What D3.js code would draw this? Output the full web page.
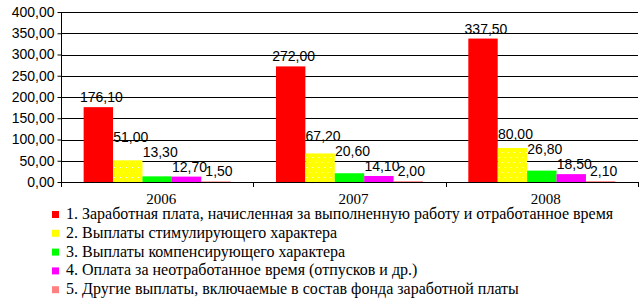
<!DOCTYPE html>
<html>
<head>
<meta charset="utf-8">
<script src="https://cdn.jsdelivr.net/npm/d3@7"></script>
<style>
  body { margin: 0; background: #fff; }
  svg text { font-family: "Liberation Serif", "Times New Roman", serif; font-size: 16px; fill: #000; }
  svg text.num { font-family: "Liberation Sans", Arial, sans-serif; font-size: 14px; }
  svg text.yr { font-size: 15px; }
</style>
</head>
<body>
<svg id="chart" width="642" height="300"></svg>
<script>
// data
var years = ["2006", "2007", "2008"];
var seriesNames = [
    "1. Заработная плата, начисленная за выполненную работу и отработанное время",
    "2. Выплаты стимулирующего характера",
    "3. Выплаты компенсирующего характера",
    "4. Оплата за неотработанное время (отпусков и др.)",
    "5. Другие выплаты, включаемые в состав фонда заработной платы"
];
var s1 = [176.10, 272.00, 337.50];
var s2 = [51.00, 67.20, 80.00];
var s3 = [13.30, 20.60, 26.80];
var s4 = [12.70, 14.10, 18.50];
var s5 = [1.50, 2.00, 2.10];
var yTicks = [0, 50, 100, 150, 200, 250, 300, 350, 400];

var seriesValues = [s1, s2, s3, s4, s5];
var colors = ["#ff0000", "url(#dots)", "#00ff00", "#ff00ff", "#ff8080"];
var legendColors = ["#ff0000", "#ffff00", "#00ff00", "#ff00ff", "#ff8080"];

var svg = d3.select('#chart');
var plotLeft = 61, plotTop = 12, plotRight = 638, plotBottom = 182;

// yellow with white dots
var pat = svg.append('defs').append('pattern')
    .attr('id', 'dots').attr('patternUnits', 'userSpaceOnUse')
    .attr('width', 6).attr('height', 10);
pat.append('rect').attr('width', 6).attr('height', 10).attr('fill', '#ffff00');
pat.append('rect').attr('x', 2).attr('y', 2).attr('width', 1).attr('height', 1).attr('fill', '#fff');
pat.append('rect').attr('x', 5).attr('y', 7).attr('width', 1).attr('height', 1).attr('fill', '#fff');

var y = d3.scaleLinear().domain([0, 400]).range([plotBottom, plotTop]);
var x0 = d3.scaleBand().domain(years).range([plotLeft, plotRight]);
var x1 = d3.scaleBand().domain(d3.range(5)).range([0, x0.bandwidth()]).paddingOuter(0.77);

var fmt = function (v) { return d3.format('.2f')(v).replace('.', ','); };

// gridlines
svg.append('g').selectAll('line').data(yTicks.slice(1)).enter().append('line')
    .attr('x1', plotLeft).attr('x2', plotRight)
    .attr('y1', function (d) { return Math.round(y(d)) + 0.5; })
    .attr('y2', function (d) { return Math.round(y(d)) + 0.5; })
    .attr('stroke', '#000').attr('stroke-width', 1);

// bars
var groups = svg.append('g').selectAll('g').data(years).enter().append('g')
    .attr('transform', function (d) { return 'translate(' + x0(d) + ',0)'; });

groups.selectAll('rect').data(function (yr, i) {
        return seriesValues.map(function (s, k) { return {k: k, v: s[i]}; });
    }).enter().append('rect')
    .attr('x', function (d) { return x1(d.k); })
    .attr('width', x1.bandwidth())
    .attr('y', function (d) { return y(d.v); })
    .attr('height', function (d) { return plotBottom - y(d.v); })
    .attr('fill', function (d) { return colors[d.k]; });

// y axis
var yAxis = svg.append('g').attr('transform', 'translate(' + (plotLeft + 0.5) + ',0)')
    .call(d3.axisLeft(y).tickValues(yTicks).tickSize(4).tickPadding(3).tickFormat(fmt));
yAxis.attr('font-size', null).attr('font-family', null);
yAxis.select('.domain').attr('d', 'M0,' + plotTop + 'V' + plotBottom);
yAxis.selectAll('.tick line').attr('stroke', '#000');
yAxis.selectAll('.tick text').attr('class', 'num');

// x axis line + ticks at band edges
var xg = svg.append('g');
xg.append('line').attr('x1', plotLeft).attr('x2', plotRight + 0.5)
    .attr('y1', plotBottom + 0.5).attr('y2', plotBottom + 0.5).attr('stroke', '#000');
xg.selectAll('line.tk').data(years.concat(['end'])).enter().append('line')
    .attr('class', 'tk')
    .attr('x1', function (d) { return Math.round(d === 'end' ? plotRight : x0(d)) + 0.5; })
    .attr('x2', function (d) { return Math.round(d === 'end' ? plotRight : x0(d)) + 0.5; })
    .attr('y1', plotBottom).attr('y2', plotBottom + 5).attr('stroke', '#000');
xg.selectAll('text').data(years).enter().append('text')
    .attr('class', 'yr')
    .attr('x', function (d) { return x0(d) + x0.bandwidth() / 2 + 4; })
    .attr('y', 204).attr('text-anchor', 'middle').text(function (d) { return d; });

// value labels, pushed up when they collide with the one on their right
groups.each(function (yr, i) {
    var g = d3.select(this);
    var placed = null;
    for (var k = 4; k >= 0; k--) {
        var v = seriesValues[k][i];
        var cx = x1(k) + x1.bandwidth() / 2 + 3;
        var t = g.append('text').attr('class', 'num').attr('text-anchor', 'middle')
            .attr('x', cx).text(fmt(v));
        var w = t.node().getComputedTextLength();
        var base = y(v) - 5;
        if (placed && (cx + w / 2) - (placed.cx - placed.w / 2) > 3) {
            base = Math.min(base, placed.base - 15);
        }
        t.attr('y', base);
        placed = {cx: cx, w: w, base: base};
    }
});

// legend
var lg = svg.append('g').selectAll('g').data(seriesNames).enter().append('g')
    .attr('transform', function (d, i) { return 'translate(52,' + (211 + i * 18.8) + ')'; });
lg.append('rect').attr('width', 7).attr('height', 7)
    .attr('fill', function (d, i) { return legendColors[i]; });
lg.append('text').attr('x', 14).attr('y', 8).text(function (d) { return d; });
</script>
</body>
</html>
